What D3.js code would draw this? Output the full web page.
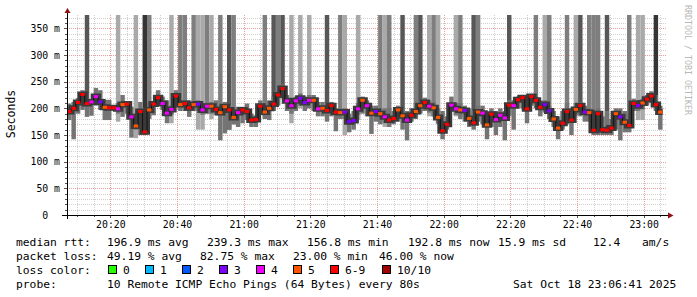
<!DOCTYPE html>
<html>
<head>
<meta charset="utf-8">
<script src="https://cdn.jsdelivr.net/npm/d3@7"></script>
<style>
  html, body { margin: 0; padding: 0; background: #fff; }
  svg { display: block; }
  text { font-family: "DejaVu Sans Mono", monospace; fill: #000; }
</style>
</head>
<body>
<svg id="chart" width="697" height="297"></svg>
<script>
// Median rtt per 80 s step (ms)
var median = [194,200,211,226,209,212,222,212,202,201,201,199,207,208,184,167,194,156,197,208,220,209,
  191,198,223,207,209,201,207,208,197,204,204,198,192,203,197,183,192,197,194,178,179,204,193,
  200,208,225,237,214,205,214,219,211,215,215,199,200,196,205,193,192,193,175,177,199,215,205,
  191,194,190,184,178,181,197,186,178,187,194,205,211,204,201,183,158,170,206,199,197,196,
  181,173,193,191,169,189,179,187,182,206,205,216,220,199,222,215,202,207,195,180,163,172,
  194,178,198,205,193,192,159,190,160,159,163,190,184,174,168,209,205,210,217,223,207,193];

// Lost pings (out of 10) per step
var loss = [6,6,6,6,6,4,4,3,5,6,6,4,5,6,4,5,6,6,5,6,6,4,
  4,4,6,5,6,6,5,3,4,4,5,6,5,5,6,5,4,6,6,6,6,6,5,
  5,6,6,6,4,4,4,3,3,4,5,4,5,6,6,6,5,3,3,3,4,5,4,
  5,3,5,4,6,6,5,5,4,6,5,5,6,4,5,5,6,6,4,4,5,3,
  5,6,5,4,5,6,4,4,4,6,4,6,6,6,6,6,6,3,3,5,5,6,
  6,6,5,6,3,5,6,6,6,6,6,5,3,5,6,6,3,5,6,6,6,5];

// Smoke extent (ms) around the median
var smokeLo = [178,142,190,197,184,186,205,197,178,178,196,190,184,190,145,160,150,150,180,187,205,197,
  172,188,209,195,195,184,195,195,188,190,190,187,140,153,160,170,165,172,178,165,165,190,180,
  178,195,205,222,195,190,195,205,195,200,195,185,185,175,185,157,180,180,155,160,188,190,185,
  152,175,170,172,165,170,175,160,140,175,180,190,195,192,185,172,142,160,195,188,180,175,
  165,160,175,170,142,165,150,165,140,185,160,200,200,172,205,200,185,192,180,165,142,160,
  170,150,188,185,175,175,150,150,150,150,150,160,140,155,155,195,195,198,205,210,195,160];
var smokeHi = [209,212,219,234,219,216,238,234,216,216,204,210,225,212,203,190,212,200,210,212,234,222,
  215,205,234,215,215,215,212,215,210,210,212,215,200,212,205,200,203,203,209,190,187,215,210,
  215,222,232,245,225,212,222,228,222,225,225,212,212,205,212,200,200,200,190,195,210,222,215,
  205,205,200,200,200,195,205,200,195,200,210,215,220,215,212,200,195,185,222,210,210,205,
  200,195,205,205,192,200,195,200,195,215,215,222,225,215,226,222,215,215,205,195,185,195,
  210,200,210,212,205,200,195,200,185,195,180,200,200,195,190,218,215,218,225,232,225,205];

// Pings above the graph top: start of the bar (ms) and its grey level (0 = none)
var tallFrom = [0,0,0,0,205,0,0,0,0,0, 0,175,0,0,0,144,0,154,185,0, 0,0,0,172,0,200,200,0,200,160,
  160,190,180,0,185,0,160,170,0,0, 0,0,0,0,185,0,195,215,225,0, 172,0,200,0,200,0,0,0,195,0,
  0,182,150,0,0,178,0,0,0,0, 175,165,170,0,0,180,0,0,185,195, 0,185,185,170,0,0,0,185,185,0,
  0,175,180,0,0,0,0,0,0,190, 0,0,0,0,0,205,0,195,185,0, 0,0,175,0,185,190,0,178,175,175,
  0,170,0,0,0,0,175,0,178,178, 0,0,205,0];
var tallShade = [0,0,0,0,3,0,0,0,0,0, 0,1,0,0,0,1,0,4,2,0, 0,0,0,1,0,2,2,0,2,1,
  1,2,1,0,2,0,3,2,0,0, 0,0,0,0,2,0,3,2,3,0, 1,0,1,0,1,0,0,0,3,0,
  0,2,1,0,0,1,0,0,0,0, 2,1,2,0,0,3,0,0,2,3, 0,1,2,1,0,0,0,1,2,0,
  0,3,2,0,0,0,0,0,0,3, 0,0,0,0,0,2,0,1,2,0, 0,0,2,0,1,3,0,2,2,2,
  0,3,0,0,0,0,2,0,1,1, 0,0,4,0];

var yTicks = [0, 50, 100, 150, 200, 250, 300, 350];
var lossLabels = ['0', '1', '2', '3', '4', '5', '6-9', '10/10'];
var lossColors = ['#26ff00', '#00b8ff', '#0059ff', '#7e00ff', '#f000ff', '#ff5500', '#ff0000', '#a10000'];
var rttStats = ['196.9 ms avg', '239.3 ms max', '156.8 ms min', '192.8 ms now', '15.9 ms sd', '12.4', 'am/s'];
var lossStats = ['49.19 % avg', '82.75 % max', '23.00 % min', '46.00 % now'];
var probeText = '10 Remote ICMP Echo Pings (64 Bytes) every 80s';
var stampText = 'Sat Oct 18 23:06:41 2025';

var startTime = new Date(2025, 9, 18, 20, 7, 0);
var endTime = new Date(2025, 9, 18, 23, 7, 0);
var stepMs = 80 * 1000;

var lossColor = function (n) {
  if (n >= 10) return lossColors[7];
  if (n >= 6) return lossColors[6];
  return lossColors[n];
};

var drawChart = function () {
  let svg = d3.select('#chart');
  svg.append('rect').attr('width', 697).attr('height', 297).attr('fill', '#fff');

  let x = d3.scaleTime().domain([startTime, endTime]).range([67, 667]);
  let y = d3.scaleLinear().domain([0, 375]).range([215, 15]);

  let steps = median.map((m, i) => ({
    t0: new Date(+startTime + i * stepMs),
    t1: new Date(+startTime + (i + 1) * stepMs),
    median: m, loss: loss[i], lo: smokeLo[i], hi: smokeHi[i],
    tallFrom: tallFrom[i], tallShade: tallShade[i]
  }));

  // Dotted grid first, the smoke sits on top of it
  let grid = svg.append('g').attr('shape-rendering', 'crispEdges');
  let minorT = d3.timeMinute.every(5).range(startTime, endTime).filter(t => t.getMinutes() % 20 !== 0);
  let majorT = d3.timeMinute.every(20).range(startTime, endTime);
  let minorV = d3.range(10, 376, 10).filter(v => v % 50 !== 0);
  let majorV = d3.range(50, 376, 50);
  let minorStyle = { stroke: '#c4c4c4', opacity: 0.8 };
  let majorStyle = { stroke: '#e27c7c', opacity: 0.75 };

  let vlines = function (data, st) {
    grid.append('g').selectAll('line').data(data).enter().append('line')
      .attr('x1', d => Math.round(x(d)) + 0.5).attr('x2', d => Math.round(x(d)) + 0.5)
      .attr('y1', y(375)).attr('y2', y(0))
      .attr('stroke', st.stroke).attr('stroke-opacity', st.opacity)
      .attr('stroke-dasharray', '1,1');
  };
  let hlines = function (data, st) {
    grid.append('g').selectAll('line').data(data).enter().append('line')
      .attr('y1', d => Math.round(y(d)) + 0.5).attr('y2', d => Math.round(y(d)) + 0.5)
      .attr('x1', 67).attr('x2', 667)
      .attr('stroke', st.stroke).attr('stroke-opacity', st.opacity)
      .attr('stroke-dasharray', '1,1');
  };
  vlines(minorT, minorStyle);
  hlines(minorV, minorStyle);
  vlines(majorT, majorStyle);
  hlines(majorV, majorStyle);

  // Tall smoke (pings over the top of the graph)
  let shades = ['none', '#a9a9a9', '#7e7e7e', '#575757', '#353535'];
  svg.append('g').selectAll('rect')
    .data(steps.filter(d => d.tallShade > 0))
    .enter().append('rect')
    .attr('x', d => x(d.t0))
    .attr('width', d => x(d.t1) - x(d.t0))
    .attr('y', y(375))
    .attr('height', d => y(d.tallFrom) - y(375))
    .attr('fill', d => shades[d.tallShade]);

  // Regular smoke band
  svg.append('g').selectAll('rect')
    .data(steps)
    .enter().append('rect')
    .attr('x', d => x(d.t0))
    .attr('width', d => x(d.t1) - x(d.t0))
    .attr('y', d => y(d.hi))
    .attr('height', d => y(d.lo) - y(d.hi))
    .attr('fill', '#747474');

  // Median step line, with a dark core behind it
  let pts = steps.map(d => [d.t0, d.median]);
  pts.push([steps[steps.length - 1].t1, steps[steps.length - 1].median]);
  let line = d3.line().x(d => x(d[0])).y(d => y(d[1])).curve(d3.curveStepAfter);
  svg.append('path').attr('d', line(pts)).attr('fill', 'none')
    .attr('stroke', '#3a3a3a').attr('stroke-width', 6);
  svg.append('path').attr('d', line(pts)).attr('fill', 'none')
    .attr('stroke', '#111').attr('stroke-width', 1);

  // Loss coloured median marks
  svg.append('g').selectAll('rect')
    .data(steps)
    .enter().append('rect')
    .attr('x', d => x(d.t0))
    .attr('width', d => x(d.t1) - x(d.t0))
    .attr('y', d => y(d.median) - 1.5)
    .attr('height', 3)
    .attr('fill', d => lossColor(d.loss));

  // Small tick marks on the axes
  let ticks = svg.append('g').attr('stroke', '#555').attr('shape-rendering', 'crispEdges');
  ticks.selectAll('.ty').data(d3.range(0, 376, 10)).enter().append('line')
    .attr('x1', d => d % 50 ? 65 : 64).attr('x2', 67)
    .attr('y1', d => Math.round(y(d)) + 0.5).attr('y2', d => Math.round(y(d)) + 0.5);
  ticks.selectAll('.tx').data(d3.timeMinute.every(5).range(startTime, endTime)).enter().append('line')
    .attr('y1', 215).attr('y2', d => d.getMinutes() % 20 ? 217 : 218)
    .attr('x1', d => Math.round(x(d)) + 0.5).attr('x2', d => Math.round(x(d)) + 0.5);

  // Axis lines and arrows
  let ax = svg.append('g').attr('shape-rendering', 'crispEdges');
  ax.append('line').attr('x1', 62).attr('x2', 670).attr('y1', 215.5).attr('y2', 215.5).attr('stroke', '#000');
  ax.append('line').attr('x1', 67.5).attr('x2', 67.5).attr('y1', 219).attr('y2', 11).attr('stroke', '#000');
  svg.append('path').attr('d', 'M668,212.5L668,218.5L673.5,215.5Z').attr('fill', '#8f1010');
  svg.append('path').attr('d', 'M64.5,13L70.5,13L67.5,8Z').attr('fill', '#8f1010');

  // Axis labels through d3 axes
  let yAxis = d3.axisLeft(y).tickValues(yTicks).tickSize(0).tickPadding(7)
    .tickFormat(d => d ? `${d} m` : '0\u00a0\u00a0');
  svg.append('g').attr('transform', 'translate(67,0)').call(yAxis)
    .call(g => g.select('.domain').remove())
    .selectAll('text').attr('font-family', '"DejaVu Sans Mono", monospace')
    .attr('font-size', '9.8px').attr('fill', '#000');

  let xAxis = d3.axisBottom(x).tickValues(majorT.filter(t => x(t) > 80)).tickSize(0).tickPadding(6)
    .tickFormat(d3.timeFormat('%H:%M'));
  svg.append('g').attr('transform', 'translate(0,215)').call(xAxis)
    .call(g => g.select('.domain').remove())
    .selectAll('text').attr('font-family', '"DejaVu Sans Mono", monospace')
    .attr('font-size', '9.8px').attr('fill', '#000');

  svg.append('text').attr('transform', 'translate(15,114) rotate(-90)')
    .attr('text-anchor', 'middle').attr('font-size', '11.5px').text('Seconds');

  svg.append('text').attr('transform', 'translate(684.5,5) rotate(90)')
    .attr('font-size', '8.3px').style('fill', '#b8b8b8').text('RRDTOOL / TOBI OETIKER');

  // Legend
  let lg = svg.append('g').attr('font-size', '11.3px');
  let put = function (tx, px, py) {
    lg.append('text').attr('x', px).attr('y', py).text(tx);
  };
  put('median rtt:', 16, 245.5);
  [107, 207, 307, 408, 498, 593, 642].forEach((px, i) => put(rttStats[i], px, 245.5));
  put('packet loss:', 16, 259.5);
  [107, 200, 293, 379].forEach((px, i) => put(lossStats[i], px, 259.5));
  put('loss color:', 16, 273.5);
  [108, 145, 182, 219, 256, 293, 330, 382].forEach((px, i) => {
    lg.append('rect').attr('x', px + 0.5).attr('y', 265.5).attr('width', 8).attr('height', 8)
      .attr('fill', lossColors[i]).attr('stroke', '#000');
    put(lossLabels[i], px + 15, 273.5);
  });
  put('probe:', 16, 287.5);
  put(probeText, 107, 287.5);
  put(stampText, 513, 287.5);
};

document.addEventListener('DOMContentLoaded', function () {
  drawChart();
}, false);
</script>
</body>
</html>
